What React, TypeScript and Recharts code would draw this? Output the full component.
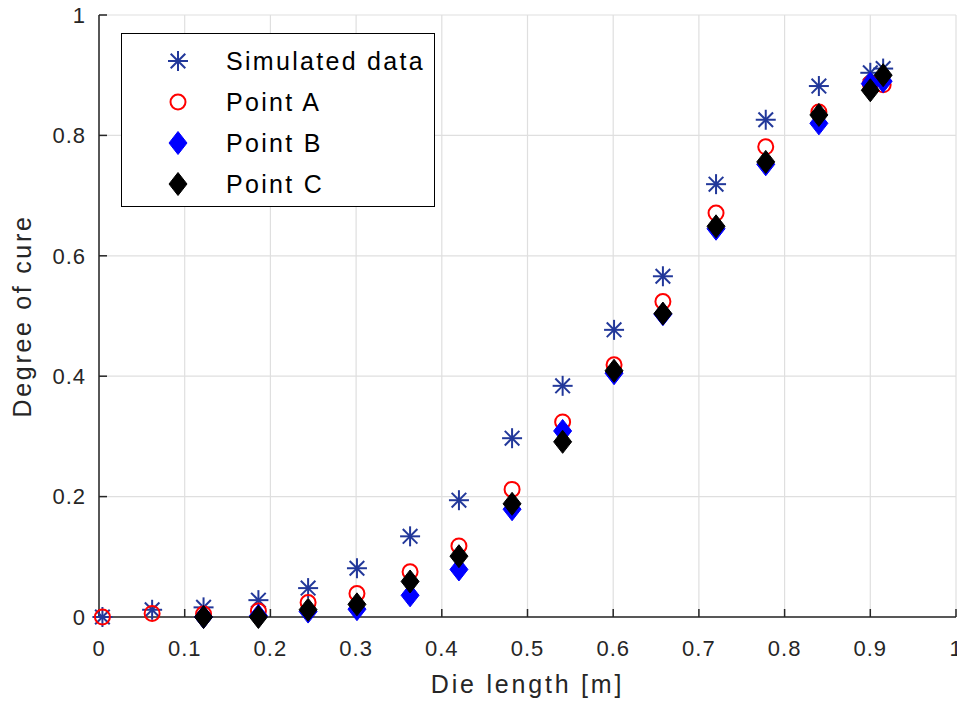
import {
  ScatterChart,
  Scatter,
  XAxis,
  YAxis,
  CartesianGrid,
  Label,
} from "recharts";

// die positions
const xPositions = [
  0.004, 0.062, 0.122, 0.186, 0.244, 0.301, 0.363, 0.42, 0.482, 0.541,
  0.601, 0.658, 0.72, 0.778, 0.84, 0.9, 0.915,
];
const simulated = [
  0, 0.012, 0.016, 0.028, 0.048, 0.081, 0.134, 0.194, 0.297, 0.384,
  0.477, 0.566, 0.719, 0.826, 0.882, 0.904, 0.911,
];
const pointA = [
  0, 0.006, 0.005, 0.01, 0.024, 0.039, 0.075, 0.118, 0.212, 0.324,
  0.419, 0.524, 0.671, 0.781, 0.839, 0.886, 0.884,
];
// B and C start at the third station
const pointB = [
  0, 0.002, 0.009, 0.013, 0.036, 0.079, 0.179, 0.309, 0.405, 0.503,
  0.645, 0.752, 0.82, 0.886, 0.89,
];
const pointC = [
  0, 0, 0.012, 0.021, 0.059, 0.101, 0.188, 0.291, 0.409, 0.504,
  0.649, 0.756, 0.834, 0.875, 0.9,
];
const xTicks = [0, 0.1, 0.2, 0.3, 0.4, 0.5, 0.6, 0.7, 0.8, 0.9, 1];
const yTicks = [0, 0.2, 0.4, 0.6, 0.8, 1];
const seriesNames = ["Simulated data", "Point A", "Point B", "Point C"];

const NAVY = "#22389a";
const AXIS = "#262626";
const FONT = '"Liberation Sans", Arial, sans-serif';

const toPoints = (xs: number[], ys: number[]) =>
  ys.map((y, i) => ({ x: xs[i], y }));

function Asterisk({ cx, cy }: { cx?: number; cy?: number }) {
  if (cx == null || cy == null) return null;
  const r = 10;
  const d = 7.3;
  return (
    <g stroke={NAVY} strokeWidth={2} fill="none">
      <line x1={cx - r} y1={cy} x2={cx + r} y2={cy} />
      <line x1={cx} y1={cy - r} x2={cx} y2={cy + r} />
      <line x1={cx - d} y1={cy - d} x2={cx + d} y2={cy + d} />
      <line x1={cx - d} y1={cy + d} x2={cx + d} y2={cy - d} />
    </g>
  );
}

function RedCircle({ cx, cy }: { cx?: number; cy?: number }) {
  if (cx == null || cy == null) return null;
  return <circle cx={cx} cy={cy} r={7.5} fill="none" stroke="#ff0000" strokeWidth={2} />;
}

function makeDiamond(color: string) {
  return function Diamond({ cx, cy }: { cx?: number; cy?: number }) {
    if (cx == null || cy == null) return null;
    const w = 9;
    const h = 11.5;
    return (
      <polygon
        points={`${cx},${cy - h} ${cx + w},${cy} ${cx},${cy + h} ${cx - w},${cy}`}
        fill={color}
        stroke={color}
        strokeWidth={1}
      />
    );
  };
}

const BlueDiamond = makeDiamond("#0000ff");
const BlackDiamond = makeDiamond("#000000");
const markers = [Asterisk, RedCircle, BlueDiamond, BlackDiamond];

const tickStyle = { fill: AXIS, fontSize: 22, fontFamily: FONT, letterSpacing: 1 };
const fmt = (v: number) => (v === 0 ? "0" : v === 1 ? "1" : String(v));

export default function App() {
  return (
    <div
      style={{
        position: "absolute",
        left: 0,
        top: 0,
        width: 957,
        height: 704,
        background: "#fff",
        fontFamily: FONT,
      }}
    >
      <ScatterChart width={957} height={704} margin={{ top: 15, right: 1, bottom: 0, left: 0 }}>
        <CartesianGrid stroke="#dfdfdf" strokeWidth={1.2} />
        <XAxis
          type="number"
          dataKey="x"
          domain={[0, 1]}
          ticks={xTicks}
          tickFormatter={fmt}
          height={87}
          axisLine={{ stroke: AXIS, strokeWidth: 1.5 }}
          tickLine={{ stroke: AXIS, strokeWidth: 1.5 }}
          tickSize={-8}
          tickMargin={31}
          tick={tickStyle}
          interval={0}
        >
          <Label
            value="Die length [m]"
            position="insideBottom"
            offset={11}
            style={{ fill: AXIS, fontSize: 25, fontFamily: FONT, letterSpacing: 2.8 }}
          />
        </XAxis>
        <YAxis
          type="number"
          dataKey="y"
          domain={[0, 1]}
          ticks={yTicks}
          tickFormatter={fmt}
          width={99}
          axisLine={{ stroke: AXIS, strokeWidth: 1.5 }}
          tickLine={{ stroke: AXIS, strokeWidth: 1.5 }}
          tickSize={-8}
          tickMargin={21}
          tick={tickStyle}
          interval={0}
        >
          <Label
            value="Degree of cure"
            angle={-90}
            position="insideLeft"
            offset={22}
            style={{
              fill: AXIS,
              fontSize: 25,
              fontFamily: FONT,
              letterSpacing: 2.7,
              textAnchor: "middle",
            }}
          />
        </YAxis>
        <XAxis
          xAxisId="top"
          orientation="top"
          type="number"
          dataKey="x"
          domain={[0, 1]}
          ticks={xTicks}
          height={0}
          axisLine={{ stroke: AXIS, strokeWidth: 1.5 }}
          tickLine={{ stroke: AXIS, strokeWidth: 1.5 }}
          tickSize={-8}
          tick={false}
          interval={0}
        />
        <YAxis
          yAxisId="right"
          orientation="right"
          type="number"
          dataKey="y"
          domain={[0, 1]}
          ticks={yTicks}
          width={0}
          axisLine={{ stroke: AXIS, strokeWidth: 1.5 }}
          tickLine={{ stroke: AXIS, strokeWidth: 1.5 }}
          tickSize={-8}
          tick={false}
          interval={0}
        />
        <Scatter
          name={seriesNames[0]}
          data={toPoints(xPositions, simulated)}
          shape={<Asterisk />}
          isAnimationActive={false}
        />
        <Scatter
          name={seriesNames[1]}
          data={toPoints(xPositions, pointA)}
          shape={<RedCircle />}
          isAnimationActive={false}
        />
        <Scatter
          name={seriesNames[2]}
          data={toPoints(xPositions.slice(2), pointB)}
          shape={<BlueDiamond />}
          isAnimationActive={false}
        />
        <Scatter
          name={seriesNames[3]}
          data={toPoints(xPositions.slice(2), pointC)}
          shape={<BlackDiamond />}
          isAnimationActive={false}
        />
      </ScatterChart>

      {/* legend box, MATLAB style */}
      <div
        style={{
          position: "absolute",
          left: 121,
          top: 33,
          width: 312,
          height: 172,
          border: "1.5px solid #000",
          background: "#fff",
        }}
      >
        {seriesNames.map((name, i) => {
          const Marker = markers[i];
          return (
            <div
              key={name}
              style={{
                position: "absolute",
                left: 0,
                top: 8 + i * 41,
                height: 38,
                display: "flex",
                alignItems: "center",
              }}
            >
              <svg width={100} height={38} style={{ display: "block" }}>
                <Marker cx={56} cy={19} />
              </svg>
              <span
                style={{
                  fontSize: 25,
                  letterSpacing: 2.3,
                  color: "#000",
                  marginLeft: 4,
                  whiteSpace: "nowrap",
                }}
              >
                {name}
              </span>
            </div>
          );
        })}
      </div>
    </div>
  );
}
